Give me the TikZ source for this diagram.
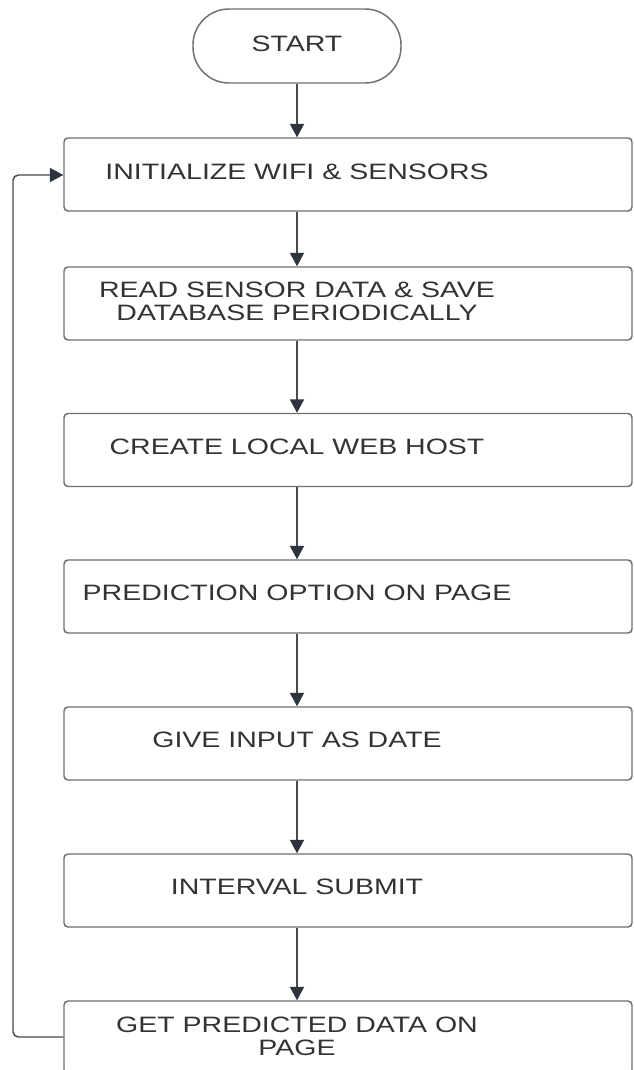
\documentclass[tikz,border=0pt]{standalone}
\usepackage{fontspec}
\newfontfamily\wide[FakeStretch=1.28]{Liberation Sans}
\usetikzlibrary{arrows.meta}
\definecolor{boxc}{HTML}{707070}
\definecolor{linec}{HTML}{4A4A4A}
\definecolor{tipc}{HTML}{2E343D}
\definecolor{txtc}{HTML}{333333}
\begin{document}
\begin{tikzpicture}[x=0.75pt,y=-0.75pt,
  stepbox/.style={draw=boxc, line width=1.1pt, rounded corners=3pt, minimum width=426pt, minimum height=54.75pt, inner sep=0pt},
  termbox/.style={draw=boxc, line width=1.1pt, rounded corners=27pt, minimum width=156pt, minimum height=55.5pt, inner sep=0pt},
  lbl/.style={font=\wide\fontsize{16.7}{17.3}\selectfont, text=txtc, align=center, inner sep=0pt},
  flow/.style={draw=linec, line width=1.1pt, -{Triangle[length=10pt,width=10.5pt,fill=tipc,color=tipc]}}
]
\useasboundingbox (0,0) rectangle (633,1070);
\fill[white] (0,0) rectangle (633,1070);
\node[termbox] (start) at (297,46) {};
\node[lbl] (ts) at (297,44) {START};
\node[stepbox] (b1) at (348,174.5) {};
\node[stepbox] (b2) at (348,303.5) {};
\node[stepbox] (b3) at (348,450) {};
\node[stepbox] (b4) at (348,596.5) {};
\node[stepbox] (b5) at (348,743.5) {};
\node[stepbox] (b6) at (348,890.5) {};
\node[stepbox] (b7) at (348,1037.5) {};
\node[lbl] (t1) at (297,172) {INITIALIZE WIFI \& SENSORS};
\node[lbl] (t2) at (297,301.5) {READ SENSOR DATA \& SAVE\\DATABASE PERIODICALLY};
\node[lbl] (t3) at (297,447) {CREATE LOCAL WEB HOST};
\node[lbl] (t4) at (297,593) {PREDICTION OPTION ON PAGE};
\node[lbl] (t5) at (297,740) {GIVE INPUT AS DATE};
\node[lbl] (t6) at (297,887) {INTERVAL SUBMIT};
\node[lbl] (t7) at (297,1036) {GET PREDICTED DATA ON\\PAGE};
\draw[flow] (start.south) -- (b1.north -| start.south);
\draw[flow] (b1.south -| start.south) -- (b2.north -| start.south);
\draw[flow] (b2.south -| start.south) -- (b3.north -| start.south);
\draw[flow] (b3.south -| start.south) -- (b4.north -| start.south);
\draw[flow] (b4.south -| start.south) -- (b5.north -| start.south);
\draw[flow] (b5.south -| start.south) -- (b6.north -| start.south);
\draw[flow] (b6.south -| start.south) -- (b7.north -| start.south);
\coordinate (lb) at (13,1037);
\coordinate (lt) at (13,175);
\draw[flow, rounded corners=4pt] (lb -| b7.west) -- (lb) -- (lt) -- (lt -| b1.west);
\end{tikzpicture}
\end{document}
